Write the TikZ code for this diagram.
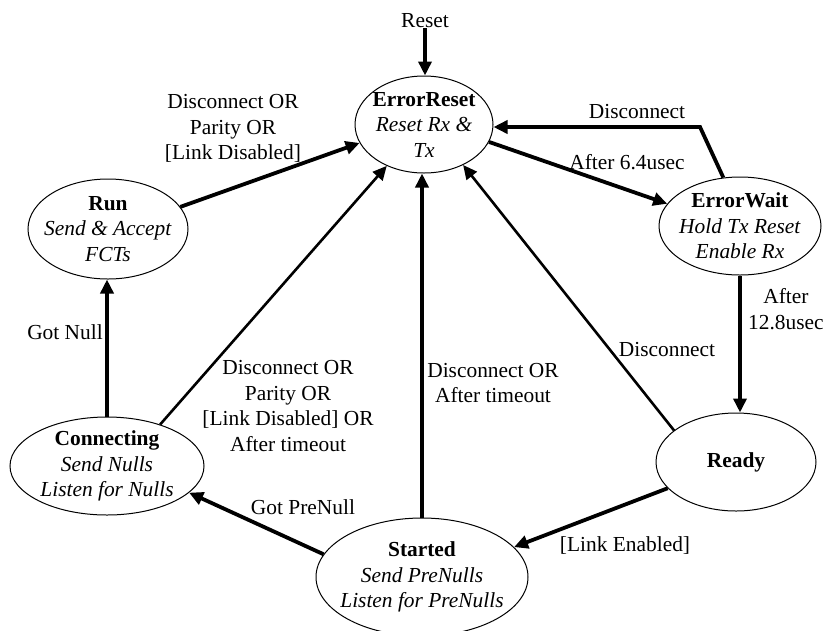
\documentclass[tikz,border=0pt]{standalone}
\usepackage{fontspec}
\setmainfont{Liberation Serif}
\usetikzlibrary{shapes.geometric,arrows.meta}
\begin{document}
\begin{tikzpicture}[x=1pt,y=-1pt,
  txt/.style={font=\fontsize{21.4pt}{25.5pt}\selectfont, align=center, inner sep=0pt},
  state/.style={ellipse, draw, line width=1pt, inner sep=0pt},
  heavy/.style={line width=3.8pt, -{Triangle[length=14pt,width=13pt]}},
  medium/.style={line width=2.6pt, -{Triangle[length=14pt,width=13pt]}},
]
\useasboundingbox (0,0) rectangle (824,630);

% states
\node[state, minimum width=138pt, minimum height=97pt,
  label={[txt,name=ert]center:{\textbf{ErrorReset}\\\textit{Reset Rx \&}\\\textit{Tx}}}] (er) at (424,124.5) {};
\node[state, minimum width=160pt, minimum height=100pt,
  label={[txt,name=runt]center:{\textbf{Run}\\\textit{Send \& Accept}\\\textit{FCTs}}}] (run) at (108,229) {};
\node[state, minimum width=162pt, minimum height=98pt,
  label={[txt,name=ewt]center:{\textbf{ErrorWait}\\\textit{Hold Tx Reset}\\\textit{Enable Rx}}}] (ew) at (740,226) {};
\node[state, minimum width=160pt, minimum height=98pt,
  label={[txt,name=rdt]center:{\textbf{Ready}}}] (ready) at (736,462) {};
\node[state, minimum width=194pt, minimum height=98pt,
  label={[txt,name=cnt]center:{\textbf{Connecting}\\\textit{Send Nulls}\\\textit{Listen for Nulls}}}] (conn) at (107,466) {};
\node[state, minimum width=212pt, minimum height=118pt,
  label={[txt,name=stt]center:{\textbf{Started}\\\textit{Send PreNulls}\\\textit{Listen for PreNulls}}}] (started) at (422,577) {};

% transition labels
\node[txt] (lreset) at (425,21) {Reset};
\node[txt] (lrun) at (233,128.5) {Disconnect OR\\Parity OR\\{[}Link Disabled]};
\node[txt] (lafter64) at (627,162) {After 6.4usec};
\node[txt] (ldisc1) at (637,112) {Disconnect};
\node[txt, anchor=west] (lafter128) at (748,309) {After\\12.8usec};
\node[txt] (ldisc2) at (667,350) {Disconnect};
\node[txt] (lenabled) at (625,545) {[Link Enabled]};
\node[txt] (lstarted) at (493,383) {Disconnect OR\\After timeout};
\node[txt] (lprenull) at (303,507) {Got PreNull};
\node[txt] (lnull) at (65,332) {Got Null};
\node[txt] (lconn) at (288,406) {Disconnect OR\\Parity OR\\{[}Link Disabled] OR\\After timeout};

% transitions
\coordinate (bend) at (700,127);
\draw[heavy] (lreset.south) -- (lreset.south |- er.north);
\draw[heavy] (run.17) -- (er.196);
\draw[medium] (conn.38) -- (er.228);
\draw[heavy] (started.north) -- (started.north |- er.south);
\draw[medium] (ready.153) -- (er.314);
\draw[heavy] (er.345) -- (ew.163);
\draw[heavy] (ew.109) -- (bend) -- (bend -| er.east);
\draw[heavy] (ew.south) -- (ew.south |- ready.north);
\draw[heavy] (ready.201) -- (started.18);
\draw[heavy] (started.167) -- (conn.342);
\draw[heavy] (conn.north) -- (conn.north |- run.south);
\end{tikzpicture}
\end{document}
